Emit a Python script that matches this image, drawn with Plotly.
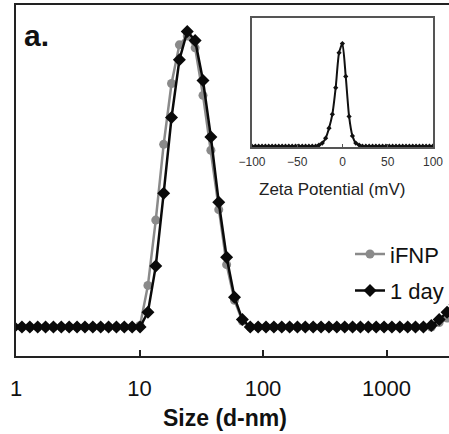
import plotly.graph_objects as go

# ---- main DLS size distribution (intensity %, arbitrary) ----
size_nm = [0.9649, 1.117, 1.294, 1.499, 1.736, 2.010, 2.328, 2.696, 3.122, 3.615,
           4.187, 4.849, 5.615, 6.503, 7.531, 8.721, 10.10, 11.70, 13.54, 15.69,
           18.17, 21.04, 24.36, 28.21, 32.67, 37.84, 43.82, 50.75, 58.77, 68.06,
           78.82, 91.28, 105.7, 122.4, 141.8, 164.2, 190.1, 220.2, 255.0, 295.3,
           342.0, 396.1, 458.7, 531.2, 615.1, 712.4, 825.0, 955.4, 1106, 1281,
           1484, 1718, 1990, 2305, 2669, 3091, 3580]
ifnp = [0, 0, 0, 0, 0, 0, 0, 0, 0, 0,
        0, 0, 0, 0, 0, 0, 0.1, 2.8, 7.2, 12.3,
        16.4, 19.0, 19.6, 18.8, 15.6, 11.9, 7.9, 4.2, 1.8, 0.4,
        0, 0, 0, 0, 0, 0, 0, 0, 0, 0,
        0, 0, 0, 0, 0, 0, 0, 0, 0, 0,
        0, 0, 0, 0, 0.3, 0.6, 1.0]
day1 = [0, 0, 0, 0, 0, 0, 0, 0, 0, 0,
        0, 0, 0, 0, 0, 0, 0, 1.0, 4.1, 9.0,
        14.1, 18.0, 19.9, 19.3, 16.6, 12.8, 8.4, 4.7, 2.0, 0.5,
        0, 0, 0, 0, 0, 0, 0, 0, 0, 0,
        0, 0, 0, 0, 0, 0, 0, 0, 0, 0,
        0, 0, 0, 0.1, 0.5, 1.0, 1.5]
size_ticks = [1, 10, 100, 1000]
size_ticktext = ["1", "10", "100", "1000"]

# ---- inset zeta potential distribution ----
zeta_mv = [-100.0, -96.3, -92.6, -88.9, -85.2, -81.5, -77.8, -74.1, -70.4, -66.7,
           -63.0, -59.3, -55.6, -51.9, -48.2, -44.5, -40.8, -37.1, -33.4, -29.7,
           -26.0, -22.3, -18.6, -14.9, -11.2, -7.5, -3.8, -0.1, 3.6, 7.3,
           11.0, 14.7, 18.4, 22.1, 25.8, 29.5, 33.2, 36.9, 40.6, 44.3,
           48.0, 51.7, 55.4, 59.1, 62.8, 66.5, 70.2, 73.9, 77.6, 81.3,
           85.0, 88.7, 92.4, 96.1, 99.8]
zeta_counts = [0, 0, 0, 0, 0, 0, 0, 0, 0, 0,
               0, 0, 0, 0, 0, 0, 0, 0, 0, 0,
               1, 3, 7.8, 17.5, 31, 57, 91, 100, 68, 29,
               10, 3, 1, 0, 0, 0, 0, 0, 0, 0,
               0, 0, 0, 0, 0, 0, 0, 0, 0, 0,
               0, 0, 0, 0, 0]
zeta_ticks = [-100, -50, 0, 50, 100]

FONT = "Liberation Sans, Arial, sans-serif"

fig = go.Figure()
fig.add_trace(go.Scatter(
    x=size_nm, y=ifnp, name="iFNP", mode="lines+markers",
    line=dict(color="#8a8a8a", width=2.5),
    marker=dict(symbol="circle", size=9, color="#8a8a8a"),
    legendgroup="a", xaxis="x", yaxis="y"))
fig.add_trace(go.Scatter(
    x=size_nm, y=day1, name="1 day", mode="lines+markers",
    line=dict(color="#0a0a0a", width=2.5),
    marker=dict(symbol="diamond", size=10, color="#0a0a0a"),
    legendgroup="b", xaxis="x", yaxis="y"))
fig.add_trace(go.Scatter(
    x=zeta_mv, y=zeta_counts, mode="lines+markers", showlegend=False,
    line=dict(color="#111111", width=2, shape="spline", smoothing=0.6),
    marker=dict(symbol="diamond", size=4, color="#111111"),
    xaxis="x2", yaxis="y2"))

fig.update_layout(
    width=449, height=434,
    margin=dict(l=16, r=0, t=5, b=78, autoexpand=False),
    paper_bgcolor="white", plot_bgcolor="white",
    font=dict(family=FONT, color="#111111"),
    xaxis=dict(type="log", range=[0, 3.506], tickvals=size_ticks,
               ticktext=size_ticktext, ticks="inside", ticklen=6, tickwidth=2,
               tickcolor="#222", showline=True, linewidth=2, linecolor="#222",
               mirror=True, showgrid=False, zeroline=False,
               tickfont=dict(size=22, family=FONT, color="#111"),
               ticklabelstandoff=12),
    yaxis=dict(range=[-1.953, 21.684], showline=True, linewidth=2,
               linecolor="#222", showgrid=False, zeroline=False,
               showticklabels=False, ticks=""),
    xaxis2=dict(domain=[0.545, 0.963], anchor="y2", range=[-100, 100],
                tickvals=zeta_ticks, ticks="inside", ticklen=3, tickwidth=1,
                tickcolor="#555", showline=True, linewidth=1.5,
                linecolor="#555", mirror=True, showgrid=False,
                zeroline=False, tickfont=dict(size=12, family=FONT, color="#333"),
                ticklabelstandoff=3),
    yaxis2=dict(domain=[0.595, 0.963], anchor="x2", range=[-1, 125],
                showline=True, linewidth=1.5, linecolor="#555", mirror=True,
                showgrid=False, zeroline=False, showticklabels=False, ticks=""),
    legend=dict(x=1.0, y=0.35, xanchor="right", yanchor="top",
                bgcolor="rgba(0,0,0,0)", font=dict(size=22, family=FONT, color="#111"),
                tracegroupgap=5, traceorder="grouped"),
    annotations=[
        dict(text="<b>Size (d-nm)</b>", x=225, y=418, xref="paper", yref="paper",
             showarrow=False, font=dict(size=23, family=FONT, color="#111"),
             xanchor="center", yanchor="middle"),
        dict(text="<b>a.</b>", x=22, y=35, showarrow=False,
             font=dict(size=30, family=FONT, color="#111"),
             xanchor="left", yanchor="middle"),
        dict(text="Zeta Potential (mV)", x=332, y=189, showarrow=False,
             font=dict(size=17, family=FONT, color="#222"),
             xanchor="center", yanchor="middle"),
    ],
)

# convert pixel-placed annotations to paper coordinates
W, H = 449, 434
l, r, t, b = 16, 0, 5, 78
pw, ph = W - l - r, H - t - b
new_ann = []
for a in fig.layout.annotations:
    a = a.to_plotly_json()
    a["xref"] = "paper"; a["yref"] = "paper"
    a["x"] = (a["x"] - l) / pw
    a["y"] = (H - b - a["y"]) / ph
    new_ann.append(a)
fig.layout.annotations = new_ann

fig.write_html(
    "out.html",
    config={"displayModeBar": False},
    post_script="document.body.style.margin='0px';document.body.style.overflow='hidden';",
)
